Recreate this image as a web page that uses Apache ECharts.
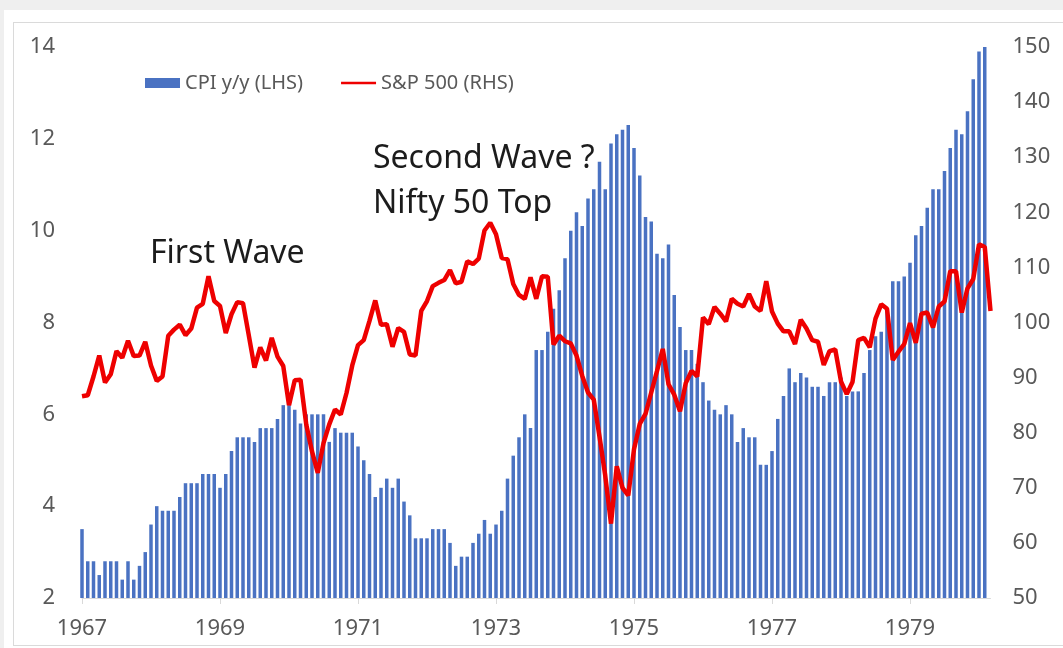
<!DOCTYPE html>
<html>
<head>
<meta charset="utf-8">
<script src="https://cdn.jsdelivr.net/npm/echarts@6/dist/echarts.min.js"></script>
<style>
  html, body {
    margin: 0;
    padding: 0;
    background: #efefef;
  }
  .panel {
    position: absolute;
    left: 4px;
    top: 10px;
    width: 1059px;
    height: 638px;
    background: #ffffff;
  }
  .frame {
    position: absolute;
    left: 13px;
    top: 22px;
    width: 1070px;
    height: 622px;
    border: 1px solid #dadada;
  }
  .line-chart {
    position: absolute;
    left: 0;
    top: 0;
    width: 1063px;
    height: 648px;
  }
</style>
</head>
<body>
<div class="panel"></div>
<div class="frame"></div>
<div class="line-chart" id="lineChart"></div>
<script>
// monthly, Jan 1967 .. Mar 1980
const startYear = 1967
const monthCount = 159

// CPI y/y %, Jan 1967 .. Feb 1980
const cpi1967 = [3.5, 2.8, 2.8, 2.5, 2.8, 2.8, 2.8, 2.4, 2.8, 2.4, 2.7, 3.0]
const cpi1968 = [3.6, 4.0, 3.9, 3.9, 3.9, 4.2, 4.5, 4.5, 4.5, 4.7, 4.7, 4.7]
const cpi1969 = [4.4, 4.7, 5.2, 5.5, 5.5, 5.5, 5.4, 5.7, 5.7, 5.7, 5.9, 6.2]
const cpi1970 = [6.2, 6.1, 5.8, 6.0, 6.0, 6.0, 6.0, 5.4, 5.7, 5.6, 5.6, 5.6]
const cpi1971 = [5.3, 5.0, 4.7, 4.2, 4.4, 4.6, 4.4, 4.6, 4.1, 3.8, 3.3, 3.3]
const cpi1972 = [3.3, 3.5, 3.5, 3.5, 3.2, 2.7, 2.9, 2.9, 3.2, 3.4, 3.7, 3.4]
const cpi1973 = [3.6, 3.9, 4.6, 5.1, 5.5, 6.0, 5.7, 7.4, 7.4, 7.8, 8.3, 8.7]
const cpi1974 = [9.4, 10.0, 10.4, 10.1, 10.7, 10.9, 11.5, 10.9, 11.9, 12.1, 12.2, 12.3]
const cpi1975 = [11.8, 11.2, 10.3, 10.2, 9.5, 9.4, 9.7, 8.6, 7.9, 7.4, 7.4, 7.1]
const cpi1976 = [6.7, 6.3, 6.1, 6.0, 6.2, 6.0, 5.4, 5.7, 5.5, 5.5, 4.9, 4.9]
const cpi1977 = [5.2, 5.9, 6.4, 7.0, 6.7, 6.9, 6.8, 6.6, 6.6, 6.4, 6.7, 6.7]
const cpi1978 = [6.8, 6.4, 6.5, 6.5, 6.9, 7.4, 7.7, 7.8, 8.3, 8.9, 8.9, 9.0]
const cpi1979 = [9.3, 9.9, 10.1, 10.5, 10.9, 10.9, 11.3, 11.8, 12.2, 12.1, 12.6, 13.3]
const cpi1980 = [13.9, 14.0]

// S&P 500 month end, Jan 1967 .. Mar 1980
const spx1967 = [86.6, 86.8, 90.2, 94.0, 89.1, 90.6, 94.8, 93.6, 96.7, 93.9, 94.0, 96.5]
const spx1968 = [92.2, 89.4, 90.2, 97.6, 98.7, 99.6, 97.7, 98.9, 102.7, 103.4, 108.4, 103.9]
const spx1969 = [103.0, 98.1, 101.5, 103.7, 103.5, 97.7, 91.8, 95.5, 93.1, 97.2, 93.8, 92.1]
const spx1970 = [85.0, 89.5, 89.6, 81.5, 76.6, 72.7, 78.1, 81.5, 84.2, 83.3, 87.2, 92.2]
const spx1971 = [95.9, 96.8, 100.3, 104.0, 99.6, 99.7, 95.6, 99.0, 98.3, 94.2, 94.0, 102.1]
const spx1972 = [103.9, 106.6, 107.2, 107.7, 109.5, 107.1, 107.4, 111.1, 110.6, 111.6, 116.7, 118.1]
const spx1973 = [116.0, 111.7, 111.5, 107.0, 105.0, 104.3, 108.2, 104.3, 108.4, 108.3, 96.0, 97.6]
const spx1974 = [96.6, 96.2, 94.0, 90.3, 87.3, 86.0, 79.3, 72.2, 63.5, 73.9, 70.0, 68.6]
const spx1975 = [77.0, 81.6, 83.4, 87.3, 91.2, 95.2, 88.8, 86.9, 83.9, 89.0, 91.2, 90.2]
const spx1976 = [100.9, 99.7, 102.8, 101.6, 100.2, 104.3, 103.4, 102.9, 105.2, 102.9, 102.1, 107.5]
const spx1977 = [102.0, 99.8, 98.4, 98.4, 96.1, 100.5, 98.9, 96.8, 96.5, 92.3, 94.8, 95.1]
const spx1978 = [89.3, 87.0, 89.2, 96.8, 97.2, 95.5, 100.7, 103.3, 102.5, 93.2, 94.7, 96.1]
const spx1979 = [99.9, 96.3, 101.6, 101.8, 99.1, 102.9, 103.8, 109.3, 109.3, 101.8, 106.2, 107.9]
const spx1980 = [114.2, 113.7, 102.1]

const yearTicks = ['1967', '1969', '1971', '1973', '1975', '1977', '1979']

const cpiData = [].concat(cpi1967, cpi1968, cpi1969, cpi1970, cpi1971, cpi1972, cpi1973,
  cpi1974, cpi1975, cpi1976, cpi1977, cpi1978, cpi1979, cpi1980)
const spxData = [].concat(spx1967, spx1968, spx1969, spx1970, spx1971, spx1972, spx1973,
  spx1974, spx1975, spx1976, spx1977, spx1978, spx1979, spx1980)

let months = []
for (let i = 0; i < monthCount; i++) {
  let y = startYear + Math.floor(i / 12)
  let m = (i % 12) + 1
  months.push(y + '-' + (m < 10 ? '0' + m : m))
}

const font = 'Noto Sans'
const isTick = (idx, val) => val.slice(5) === '01' && yearTicks.indexOf(val.slice(0, 4)) > -1

let myChart = echarts.init(document.getElementById('lineChart'))
let option = {
  animation: false,
  textStyle: {
    fontFamily: font,
  },
  legend: {
    left: 140,
    top: 68,
    itemWidth: 35,
    itemHeight: 10,
    itemGap: 38,
    textStyle: {
      fontSize: 20,
      color: '#595959',
      fontFamily: font,
    },
    data: [
      { name: 'CPI y/y (LHS)', icon: 'rect' },
      { name: 'S&P 500 (RHS)', icon: 'path://M0,0H40V3H0Z' },
    ],
  },
  grid: {
    left: 82,
    right: 72.5,
    top: 47,
    bottom: 50,
    containLabel: false,
  },
  xAxis: {
    type: 'category',
    data: months,
    boundaryGap: false,
    axisLine: {
      lineStyle: {
        color: '#d9d9d9',
      },
    },
    axisTick: {
      interval: isTick,
      length: 6,
      lineStyle: {
        color: '#d9d9d9',
      },
    },
    axisLabel: {
      interval: isTick,
      formatter: (val) => val.slice(0, 4),
      fontSize: 22,
      color: '#595959',
      margin: 20,
    },
  },
  yAxis: [
    {
      type: 'value',
      min: 2,
      max: 14,
      interval: 2,
      splitLine: { show: false },
      axisLine: { show: false },
      axisTick: { show: false },
      axisLabel: {
        fontSize: 22,
        color: '#595959',
        margin: 27,
      },
    },
    {
      type: 'value',
      min: 50,
      max: 150,
      interval: 10,
      position: 'right',
      splitLine: { show: false },
      axisLine: { show: false },
      axisTick: { show: false },
      axisLabel: {
        fontSize: 22,
        color: '#595959',
        margin: 22,
      },
    },
  ],
  graphic: [
    {
      type: 'text',
      left: 150,
      top: 238,
      style: { text: 'First Wave', font: '32px "Noto Sans"', fill: '#1c1c1c' },
    },
    {
      type: 'text',
      left: 373,
      top: 143,
      style: { text: 'Second Wave ?', font: '32px "Noto Sans"', fill: '#1c1c1c' },
    },
    {
      type: 'text',
      left: 373,
      top: 188,
      style: { text: 'Nifty 50 Top', font: '32px "Noto Sans"', fill: '#1c1c1c' },
    },
  ],
  series: [
    {
      name: 'CPI y/y (LHS)',
      type: 'bar',
      data: cpiData,
      yAxisIndex: 0,
      barWidth: 3.5,
      clip: true,
      itemStyle: {
        color: '#4a72c2',
      },
    },
    {
      name: 'S&P 500 (RHS)',
      type: 'line',
      data: spxData,
      yAxisIndex: 1,
      showSymbol: false,
      symbol: 'none',
      lineStyle: {
        color: '#ee0000',
        width: 4.5,
      },
      itemStyle: {
        color: '#ee0000',
      },
      z: 3,
    },
  ],
}
myChart.setOption(option)
window.addEventListener('resize', () => {
  myChart.resize()
})
</script>
</body>
</html>
